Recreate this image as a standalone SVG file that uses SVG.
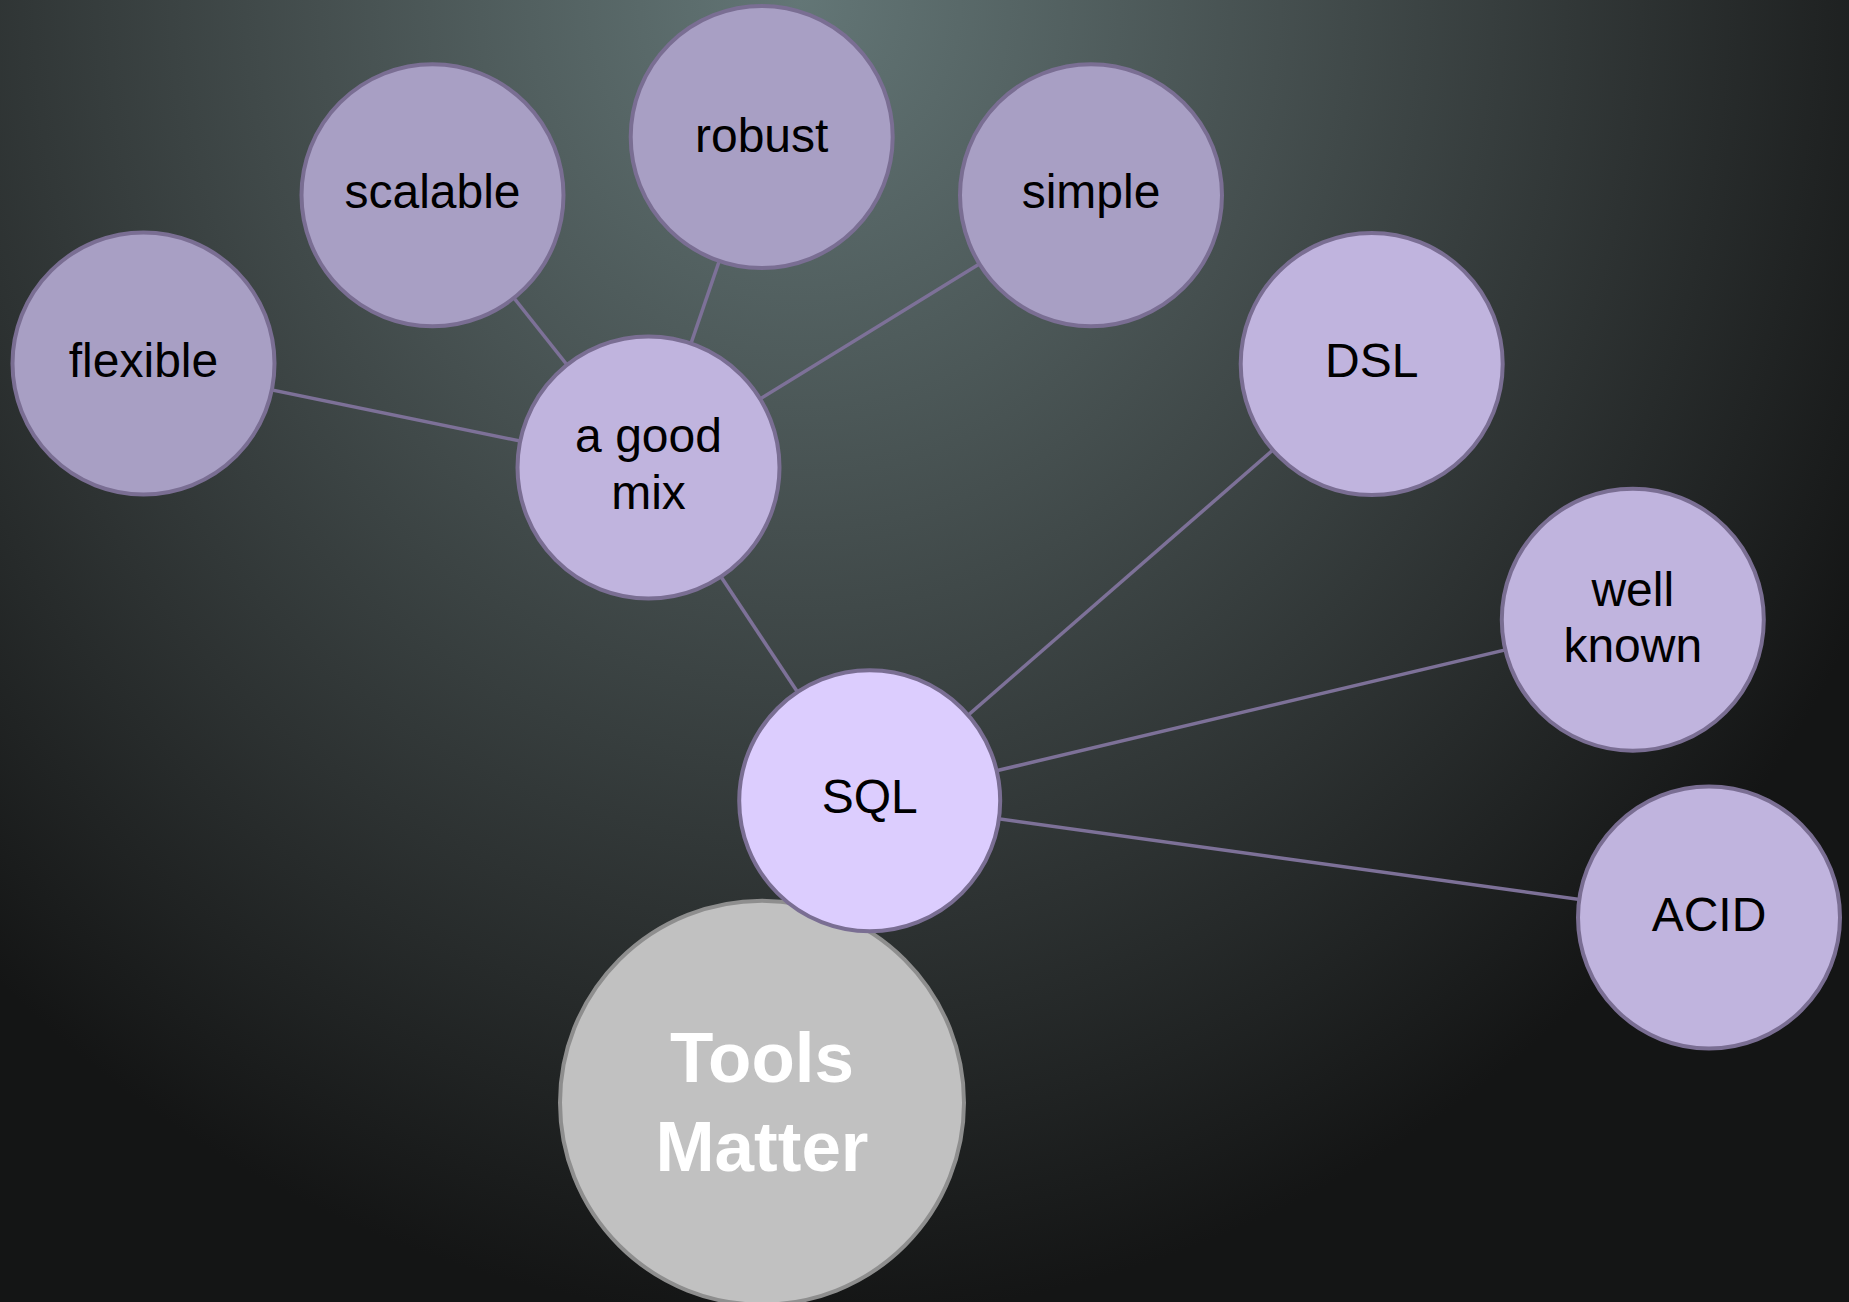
<svg xmlns="http://www.w3.org/2000/svg" width="1849" height="1302" viewBox="0 0 1849 1302">
  <defs>
    <radialGradient id="bg" gradientUnits="userSpaceOnUse" cx="800" cy="0" r="1200" gradientTransform="translate(800 0) scale(1 1.1) translate(-800 0)">
      <stop offset="0" stop-color="#637676"/>
      <stop offset="0.4" stop-color="#454f4f"/>
      <stop offset="0.7" stop-color="#2d3232"/>
      <stop offset="1" stop-color="#141515"/>
    </radialGradient>
    <style>
      .n circle { stroke: #7a6e93; stroke-width: 4; }
      .outer circle { fill: #a89fc4; }
      .mid circle { fill: #c0b4de; }
      .core circle { fill: #dccdfe; }
      .n text { font-family: "Liberation Sans", Arial, Helvetica, sans-serif; font-size: 48px; fill: #000; text-anchor: middle; }
      .root circle { fill: #c1c1c1; stroke: #8e8e8e; stroke-width: 4; }
      .root text { font-family: "Liberation Sans", Arial, Helvetica, sans-serif; font-size: 71px; font-weight: bold; fill: #fff; text-anchor: middle; }
      #connectors line { stroke: #7d7198; stroke-width: 3.5; }
    </style>
  </defs>
  <rect width="1849" height="1302" fill="url(#bg)"/>
  <g id="connectors">
    <line x1="143.5" y1="363.5" x2="648.5" y2="467.5"/>
    <line x1="432.5" y1="195.3" x2="648.5" y2="467.5"/>
    <line x1="761.7" y1="137" x2="648.5" y2="467.5"/>
    <line x1="1091" y1="195.3" x2="648.5" y2="467.5"/>
    <line x1="648.5" y1="467.5" x2="869.7" y2="800.8"/>
    <line x1="1371.7" y1="364" x2="869.7" y2="800.8"/>
    <line x1="1632.8" y1="619.7" x2="869.7" y2="800.8"/>
    <line x1="1709" y1="917.5" x2="869.7" y2="800.8"/>
  </g>
  <g id="node-tools-matter" class="root">
    <circle cx="762" cy="1102.7" r="202"/>
    <text x="762" y="1082.3">Tools</text>
    <text x="762" y="1171">Matter</text>
  </g>
  <g id="node-flexible" class="n outer">
    <circle cx="143.5" cy="363.5" r="131"/>
    <text x="143.5" y="376.5">flexible</text>
  </g>
  <g id="node-scalable" class="n outer">
    <circle cx="432.5" cy="195.3" r="131"/>
    <text x="432.5" y="207.5">scalable</text>
  </g>
  <g id="node-robust" class="n outer">
    <circle cx="761.7" cy="137" r="131"/>
    <text x="761.7" y="151.5">robust</text>
  </g>
  <g id="node-simple" class="n outer">
    <circle cx="1091" cy="195.3" r="131"/>
    <text x="1091" y="207.5">simple</text>
  </g>
  <g id="node-a-good-mix" class="n mid">
    <circle cx="648.5" cy="467.5" r="131"/>
    <text x="648.5" y="452">a good</text>
    <text x="648.5" y="508.5">mix</text>
  </g>
  <g id="node-dsl" class="n mid">
    <circle cx="1371.7" cy="364" r="131"/>
    <text x="1371.7" y="376.7">DSL</text>
  </g>
  <g id="node-well-known" class="n mid">
    <circle cx="1632.8" cy="619.7" r="131"/>
    <text x="1632.8" y="606">well</text>
    <text x="1632.8" y="661.7">known</text>
  </g>
  <g id="node-acid" class="n mid">
    <circle cx="1709" cy="917.5" r="131"/>
    <text x="1709" y="931">ACID</text>
  </g>
  <g id="node-sql" class="n core">
    <circle cx="869.7" cy="800.8" r="130.5"/>
    <text x="869.7" y="813.3">SQL</text>
  </g>
</svg>
